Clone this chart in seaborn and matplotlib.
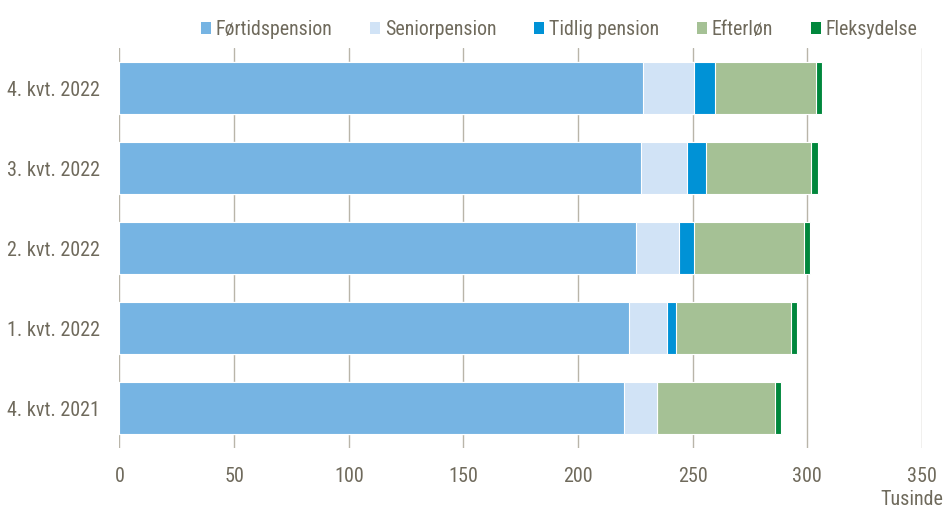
import matplotlib
matplotlib.use("Agg")
import matplotlib.pyplot as plt
from matplotlib import font_manager
from matplotlib.patches import Patch
import pandas as pd
import seaborn as sns

# --- data (thousands of persons) ------------------------------------------- #
QUARTERS = ["4. kvt. 2022", "3. kvt. 2022", "2. kvt. 2022", "1. kvt. 2022", "4. kvt. 2021"]
SERIES = ["Førtidspension", "Seniorpension", "Tidlig pension", "Efterløn", "Fleksydelse"]
FORTID = [228.5, 227.4, 225.3, 222.3, 220.1]
SENIOR = [21.9, 20.3, 18.8, 16.4, 14.3]
TIDLIG = [9.4, 8.2, 6.3, 4.2, 0.0]
EFTERLON = [43.9, 45.8, 48.0, 49.9, 51.6]
FLEKS = [2.5, 2.8, 2.9, 2.9, 2.7]
XTICKS = [0, 50, 100, 150, 200, 250, 300, 350]

COLORS = ["#76b4e3", "#d1e3f6", "#0092d6", "#a5c195", "#00873c"]
TEXT = "#6f6a5c"
GRID = "#b9b5a9"

# narrow sans like the original (Arial Narrow look-alike), first one installed
_have = {f.name for f in font_manager.fontManager.ttflist}
_prefs = ["Liberation Sans Narrow", "Arimo Narrow", "Roboto Condensed",
          "Archivo Narrow", "Open Sans Condensed", "Asap Condensed"]
NARROW = next((p for p in _prefs if p in _have), "DejaVu Sans")

sns.set_theme(style="white")
plt.rcParams["font.family"] = [NARROW, "DejaVu Sans"]
plt.rcParams["font.size"] = 14.5

df = pd.DataFrame({"quarter": QUARTERS})
for name, vals in zip(SERIES, [FORTID, SENIOR, TIDLIG, EFTERLON, FLEKS]):
    df[name] = vals
cum = df[SERIES].cumsum(axis=1)

fig = plt.figure(figsize=(9.46, 5.09), dpi=100)
ax = fig.add_axes([0.1263, 0.1198, 0.9746 - 0.1263, 0.9057 - 0.1198])

# stacked: draw cumulative totals from the outermost layer inward
for name, color in reversed(list(zip(SERIES, COLORS))):
    sns.barplot(x=cum[name], y=df["quarter"], order=QUARTERS, orient="h",
                color=color, width=0.66, edgecolor="white", linewidth=0.8,
                saturation=1, ax=ax, zorder=3)

ax.set_xlim(0, 350)
ax.set_ylim(4.5, -0.5)
ax.set_xticks(XTICKS)
ax.set_xticklabels([str(t) for t in XTICKS])
ax.grid(axis="x", color=GRID, linewidth=1.0, zorder=0)
ax.grid(axis="y", visible=False)
for s in ax.spines.values():
    s.set_visible(False)
ax.tick_params(axis="both", length=0, labelsize=14.5, colors=TEXT)
ax.tick_params(axis="x", pad=14)
ax.tick_params(axis="y", pad=14)
ax.set_xlabel("")
ax.set_ylabel("")

fig.text(0.997, 0.008, "Tusinde", ha="right", va="baseline", fontsize=14.5, color=TEXT)

handles = [Patch(facecolor=c, edgecolor="none", label=n) for n, c in zip(SERIES, COLORS)]
leg = fig.legend(handles=handles, loc="center right", ncol=5,
                 bbox_to_anchor=(0.970, 0.942), frameon=False,
                 handlelength=0.5, handleheight=0.5, handletextpad=0.25,
                 columnspacing=1.9, fontsize=14.3, borderaxespad=0, borderpad=0)
for t in leg.get_texts():
    t.set_color(TEXT)

fig.savefig("out.png", dpi=100)
